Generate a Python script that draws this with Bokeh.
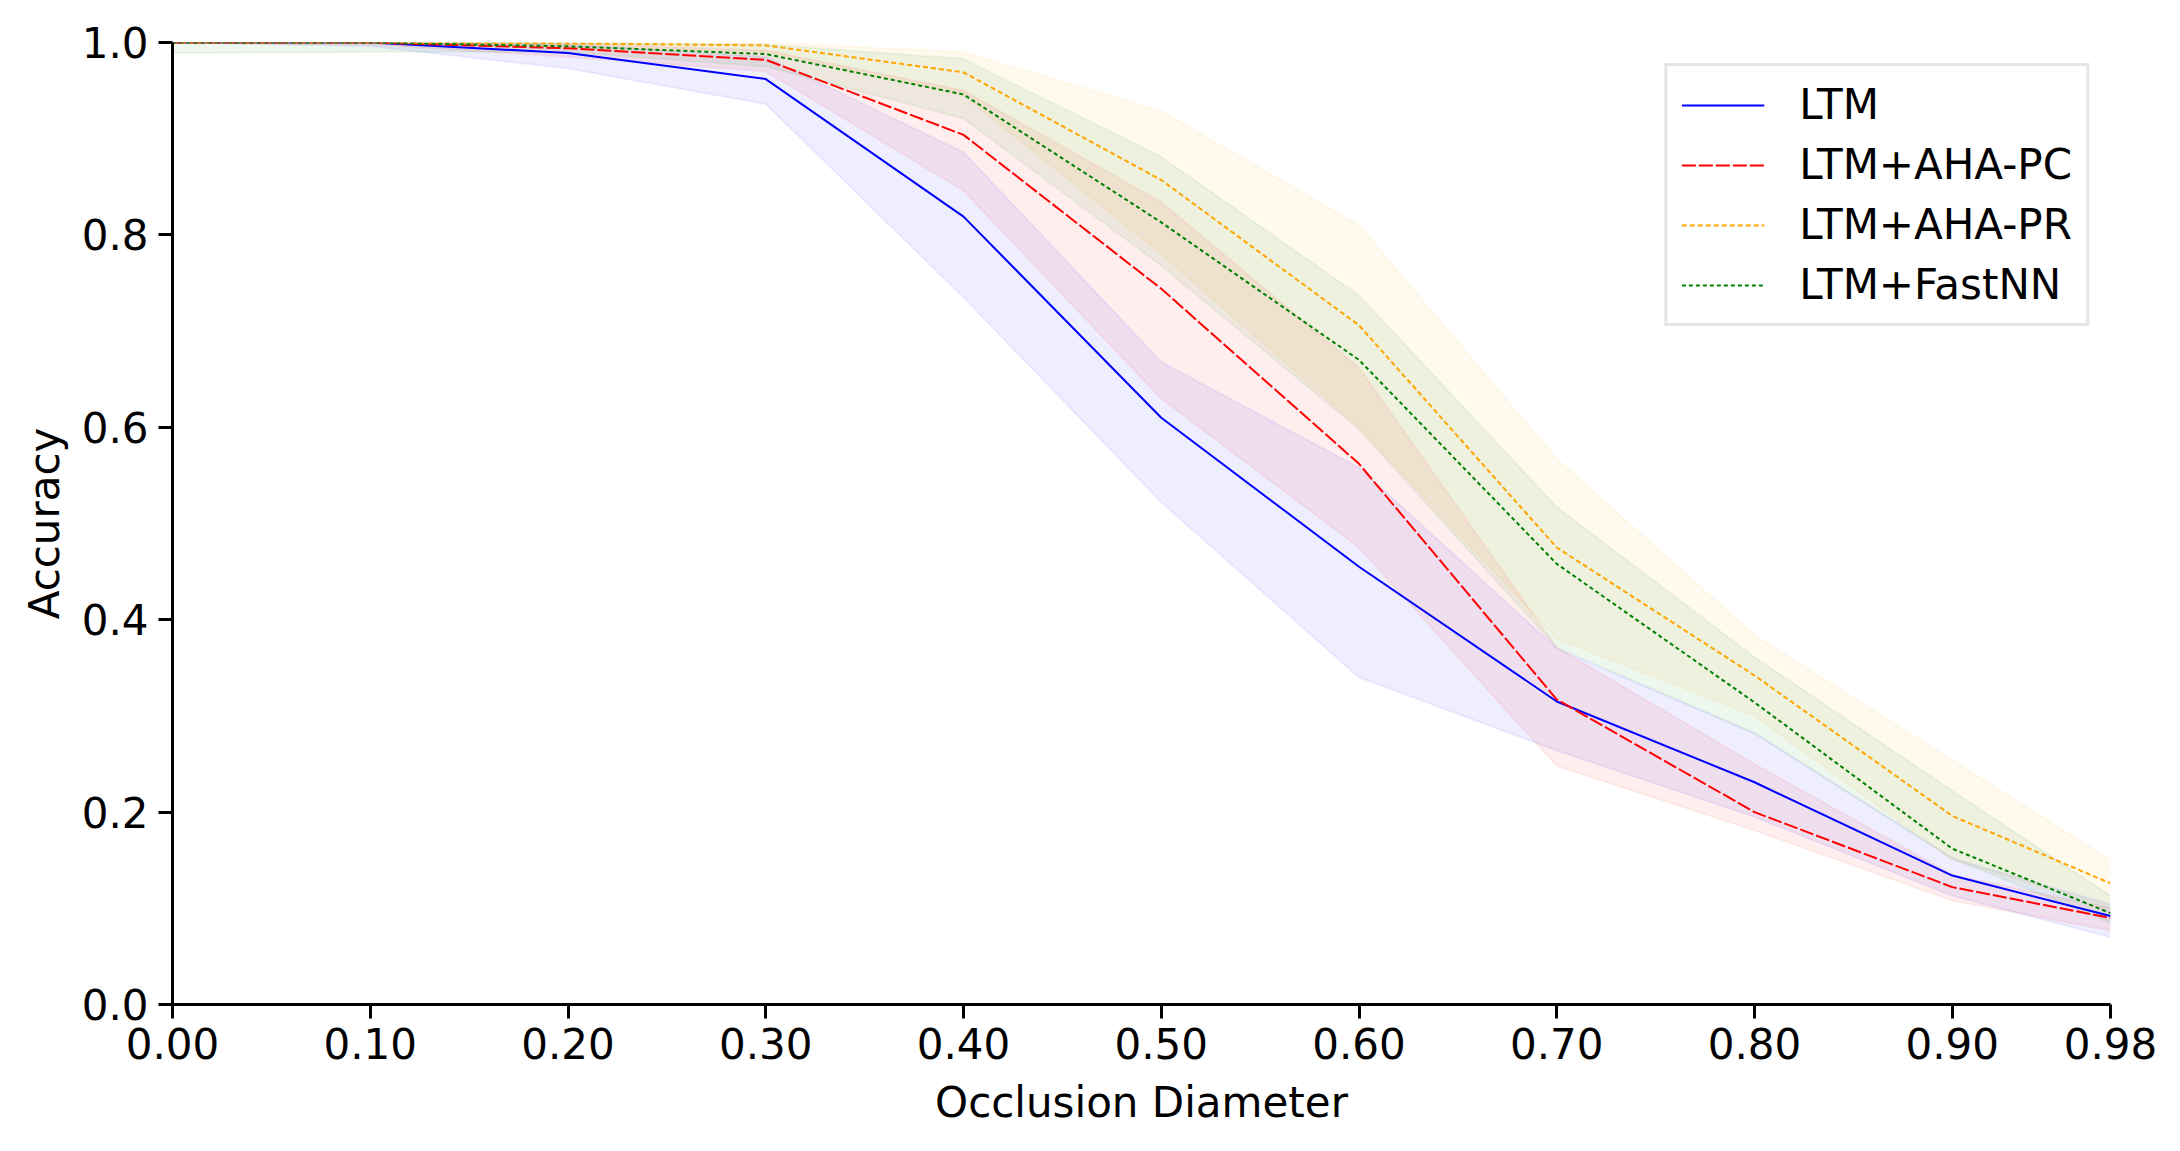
from bokeh.plotting import figure
from bokeh.models import Range1d, FixedTicker, Legend, LegendItem
from bokeh.embed import file_html
from bokeh.resources import INLINE

# ---- data ----
x_vals = [0.0, 0.1, 0.2, 0.3, 0.4, 0.5, 0.6, 0.7, 0.8, 0.9, 0.98]
x_tick_labels = ["0.00", "0.10", "0.20", "0.30", "0.40", "0.50", "0.60", "0.70", "0.80", "0.90", "0.98"]
y_ticks = [0.0, 0.2, 0.4, 0.6, 0.8, 1.0]
y_tick_labels = ["0.0", "0.2", "0.4", "0.6", "0.8", "1.0"]

series_names = ["LTM", "LTM+AHA-PC", "LTM+AHA-PR", "LTM+FastNN"]

ltm_mean = [1.0, 1.0, 0.989, 0.962, 0.819, 0.610, 0.455, 0.315, 0.231, 0.134, 0.092]
ltm_lo = [1.0, 0.996, 0.973, 0.936, 0.735, 0.522, 0.340, 0.264, 0.195, 0.113, 0.070]
ltm_hi = [1.0, 1.0, 0.998, 0.985, 0.886, 0.668, 0.558, 0.370, 0.282, 0.152, 0.104]

pc_mean = [1.0, 1.0, 0.994, 0.982, 0.904, 0.744, 0.562, 0.317, 0.200, 0.122, 0.090]
pc_lo = [1.0, 0.998, 0.985, 0.970, 0.846, 0.630, 0.475, 0.248, 0.181, 0.108, 0.077]
pc_hi = [1.0, 1.0, 0.999, 0.992, 0.950, 0.834, 0.662, 0.371, 0.250, 0.135, 0.100]

pr_mean = [1.0, 1.0, 0.999, 0.997, 0.969, 0.857, 0.706, 0.475, 0.342, 0.196, 0.126]
pr_lo = [1.0, 1.0, 0.995, 0.990, 0.945, 0.780, 0.600, 0.380, 0.300, 0.150, 0.100]
pr_hi = [1.0, 1.0, 1.0, 1.0, 0.990, 0.929, 0.810, 0.567, 0.384, 0.254, 0.150]

fn_mean = [1.0, 1.0, 0.996, 0.988, 0.946, 0.813, 0.670, 0.458, 0.314, 0.162, 0.095]
fn_lo = [0.989, 0.990, 0.990, 0.975, 0.921, 0.768, 0.598, 0.371, 0.282, 0.152, 0.085]
fn_hi = [1.0, 1.0, 1.0, 0.998, 0.983, 0.881, 0.737, 0.517, 0.361, 0.222, 0.113]

colors = ["blue", "red", "orange", "green"]
dashes = ["solid", "14 3", "5 3", "4 3"]

FONT = "DejaVu Sans"
FS = "42px"

p = figure(width=2164, height=1135, output_backend="svg", toolbar_location=None,
           x_range=Range1d(0, 0.98), y_range=Range1d(0, 1.0),
           min_border_left=172, min_border_right=54, min_border_top=42, min_border_bottom=131)
p.outline_line_color = None
p.grid.visible = False
p.background_fill_color = "white"
p.border_fill_color = "white"

means = [ltm_mean, pc_mean, pr_mean, fn_mean]
los = [ltm_lo, pc_lo, pr_lo, fn_lo]
his = [ltm_hi, pc_hi, pr_hi, fn_hi]

for lo, hi, c in zip(los, his, colors):
    p.varea(x=x_vals, y1=lo, y2=hi, fill_color=c, fill_alpha=0.065)
    p.line(x_vals, lo, line_color=c, line_alpha=0.06, line_width=2)
    p.line(x_vals, hi, line_color=c, line_alpha=0.06, line_width=2)

items = []
for name, m, c, d in zip(series_names, means, colors, dashes):
    r = p.line(x_vals, m, line_color=c, line_width=2, line_dash=d)
    items.append(LegendItem(label=name, renderers=[r]))

legend = Legend(items=items, location="top_right")
legend.margin = 21
legend.padding = 14
legend.spacing = 11
legend.glyph_width = 83
legend.label_standoff = 35
legend.label_text_font = FONT
legend.label_text_font_size = FS
legend.label_text_color = "black"
legend.border_line_color = "#cccccc"
legend.border_line_width = 3
legend.background_fill_color = "white"
legend.background_fill_alpha = 0.8
p.add_layout(legend)

xa = p.xaxis[0]
xa.ticker = FixedTicker(ticks=x_vals)
xa.major_label_overrides = {xv: lab for xv, lab in zip(x_vals, x_tick_labels)}
xa.axis_label = "Occlusion Diameter"

ya = p.yaxis[0]
ya.ticker = FixedTicker(ticks=y_ticks)
ya.major_label_overrides = {yv: lab for yv, lab in zip(y_ticks, y_tick_labels)}
ya.axis_label = "Accuracy"

for ax in (xa, ya):
    ax.minor_tick_line_color = None
    ax.major_tick_out = 14
    ax.major_tick_in = 0
    ax.major_tick_line_width = 3
    ax.axis_line_width = 3
    ax.axis_line_color = "black"
    ax.major_tick_line_color = "black"
    ax.major_label_text_font = FONT
    ax.major_label_text_font_size = FS
    ax.major_label_text_color = "black"
    ax.axis_label_text_font = FONT
    ax.axis_label_text_font_size = FS
    ax.axis_label_text_font_style = "normal"
    ax.axis_label_text_color = "black"
xa.major_label_standoff = 9
xa.axis_label_standoff = 16
ya.major_label_standoff = 10
ya.axis_label_standoff = 10

open("out.html", "w").write(file_html(p, INLINE))
